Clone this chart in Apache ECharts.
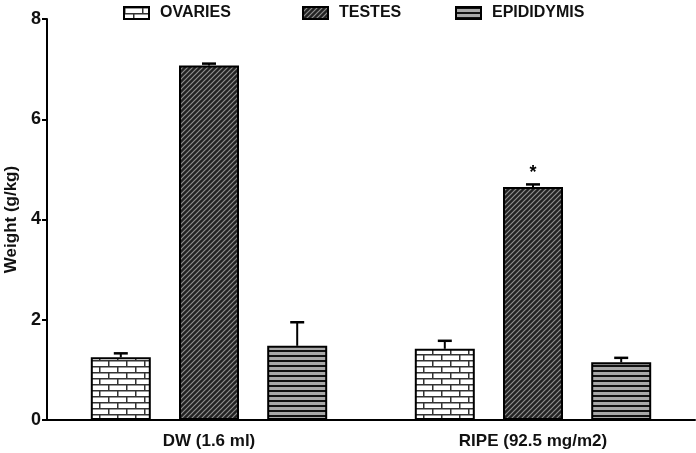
<!DOCTYPE html>
<html><head><meta charset="utf-8">
<script src="https://cdn.jsdelivr.net/npm/echarts@6/dist/echarts.min.js"></script>
<style>html,body{margin:0;padding:0;background:#fff}#c{width:696px;height:453px}</style>
</head><body><div id="c"></div>
<script>
var categories = ['DW (1.6 ml)', 'RIPE (92.5 mg/m2)'];
var seriesNames = ['OVARIES', 'TESTES', 'EPIDIDYMIS'];
var ovaries = [1.25, 1.42];
var ovariesErr = [0.08, 0.16];
var testes = [7.07, 4.65];
var testesErr = [0.04, 0.05];
var epididymis = [1.48, 1.15];
var epididymisErr = [0.47, 0.09];
var testesMarks = ['', '*'];
var yTicks = [0, 2, 4, 6, 8];

var BAR_W = 60, BAR_GAP = 0.47;
var FONT = '"Liberation Sans", Arial, sans-serif';

function mk(w, h, draw) {
  var c = document.createElement('canvas'); c.width = w; c.height = h;
  draw(c.getContext('2d')); return c;
}
var brick = mk(18, 12, function (g) {
  g.fillStyle = '#fff'; g.fillRect(0, 0, 18, 12);
  g.fillStyle = '#333';
  g.fillRect(0, 0, 18, 1.5); g.fillRect(0, 6, 18, 1.5);
  g.fillRect(0, 0, 1.5, 6); g.fillRect(9, 6, 1.5, 6);
});
var diag = mk(5, 5, function (g) {
  g.fillStyle = '#222'; g.fillRect(0, 0, 5, 5);
  g.strokeStyle = '#8f8f8f'; g.lineWidth = 1.2;
  g.beginPath();
  g.moveTo(-1, 6); g.lineTo(6, -1);
  g.moveTo(-1, 1); g.lineTo(1, -1);
  g.moveTo(4, 6); g.lineTo(6, 4);
  g.stroke();
});
var horiz = mk(4, 5, function (g) {
  g.fillStyle = '#a8a8a8'; g.fillRect(0, 0, 4, 5);
  g.fillStyle = '#111'; g.fillRect(0, 0, 4, 2);
});
var patterns = [brick, diag, horiz];
var values = [ovaries, testes, epididymis];
var errs = [ovariesErr, testesErr, epididymisErr];
var marks = [null, testesMarks, null];

var series = [];
seriesNames.forEach(function (name, j) {
  series.push({
    name: name, type: 'bar', data: values[j], barWidth: BAR_W, barGap: (BAR_GAP * 100) + '%',
    itemStyle: { color: { image: patterns[j], repeat: 'repeat' }, borderColor: '#000', borderWidth: 2 },
    z: 2
  });
});
seriesNames.forEach(function (name, j) {
  var d = values[j].map(function (v, i) { return [i, v, errs[j][i], marks[j] ? marks[j][i] : '']; });
  series.push({
    type: 'custom', data: d, z: 5, silent: true,
    renderItem: function (params, api) {
      var cat = api.value(0), v = api.value(1), e = api.value(2);
      var mark = d[params.dataIndex][3];
      var off = (j - 1) * BAR_W * (1 + BAR_GAP);
      var p0 = api.coord([cat, v]), p1 = api.coord([cat, v + e]);
      var x = p0[0] + off;
      var st = { stroke: '#000', lineWidth: 2 };
      var ch = [
        { type: 'line', shape: { x1: x, y1: p0[1], x2: x, y2: p1[1] }, style: st },
        { type: 'line', shape: { x1: x - 7, y1: p1[1], x2: x + 7, y2: p1[1] }, style: { stroke: '#000', lineWidth: 2.5 } }
      ];
      if (mark) {
        ch.push({ type: 'text', style: { text: mark, x: x, y: p1[1] - 2, textAlign: 'center', textVerticalAlign: 'bottom', font: 'bold 18px ' + FONT, fill: '#000' } });
      }
      return { type: 'group', children: ch };
    }
  });
});

var legendPos = [123, 302, 455];
var chart = echarts.init(document.getElementById('c'));
chart.setOption({
  animation: false,
  backgroundColor: '#fff',
  legend: seriesNames.map(function (n, j) {
    return {
      data: [n], left: legendPos[j], top: 5, padding: 0, itemWidth: 25, itemHeight: 12, itemGap: 10,
      icon: 'rect', textStyle: { fontFamily: FONT, fontSize: 16, color: '#111', fontWeight: 'bold', padding: [0, 0, 0, 6] }
    };
  }),
  grid: { left: 47, right: 1, top: 19, bottom: 33, outerBoundsMode: 'none', containLabel: false },
  xAxis: {
    type: 'category', data: categories,
    axisLine: { lineStyle: { color: '#000', width: 2 } },
    axisTick: { alignWithLabel: true, length: 7, lineStyle: { color: '#000', width: 2 } },
    axisLabel: { fontFamily: FONT, fontSize: 17, fontWeight: 'bold', color: '#111', margin: 13 }
  },
  yAxis: {
    type: 'value', min: yTicks[0], max: yTicks[yTicks.length - 1], interval: 2,
    name: 'Weight (g/kg)', nameLocation: 'middle', nameGap: 27,
    nameTextStyle: { fontFamily: FONT, fontSize: 17, fontWeight: 'bold', color: '#111' },
    axisLine: { show: true, lineStyle: { color: '#000', width: 2 } },
    axisTick: { show: true, length: 5, lineStyle: { color: '#000', width: 2 } },
    axisLabel: { fontFamily: FONT, fontSize: 18, fontWeight: 'bold', color: '#111', margin: 6 },
    splitLine: { show: false }
  },
  series: series
});
</script></body></html>
